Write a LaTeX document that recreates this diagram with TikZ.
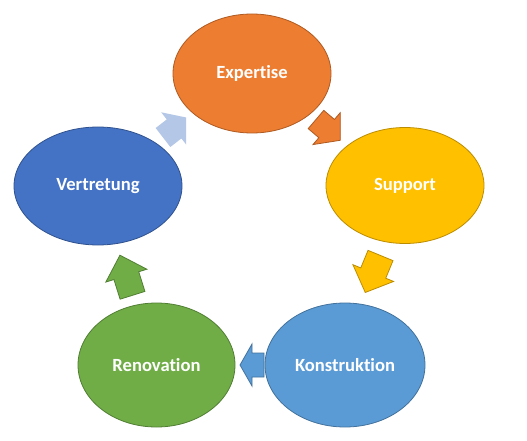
\documentclass[tikz,border=0pt]{standalone}
\usepackage{fontspec}
\setmainfont{Carlito}[Ligatures=NoCommon]
\usetikzlibrary{shapes.geometric}
\definecolor{cOr}{HTML}{ED7D31}\definecolor{cOrD}{HTML}{AE5A21}
\definecolor{cYe}{HTML}{FFC000}\definecolor{cYeD}{HTML}{BC8C00}
\definecolor{cBl}{HTML}{5B9BD5}\definecolor{cBlD}{HTML}{41719C}
\definecolor{cGr}{HTML}{70AD47}\definecolor{cGrD}{HTML}{507E32}
\definecolor{cDb}{HTML}{4472C4}\definecolor{cDbD}{HTML}{2F528F}
\definecolor{cLb}{HTML}{B4C7E7}
\newcommand\BlockArr[8]{%
  \begin{scope}[shift={(#2,#3)},rotate=#4]
    \path[#1] (0,#7) -- (#6,#7) -- (#6,#8) -- (#5,0) -- (#6,-#8) -- (#6,-#7) -- (0,-#7) -- cycle;
  \end{scope}}
\tikzset{
  circ/.style={ellipse, inner sep=0pt, line width=0.8pt, text=white,
    font=\bfseries\fontsize{18.6}{20}\selectfont},
  arr/.style={line width=0.8pt, line join=miter},
}
\begin{document}
\begin{tikzpicture}[x=1pt,y=-1pt]
\useasboundingbox[fill=white] (0,0) rectangle (527,441);
% arrows
\BlockArr{arr,fill=cOr,draw=cOrD}{316}{119.5}{-40.5}{32}{14}{12}{21}
\BlockArr{arr,fill=cYe,draw=cYeD}{380.5}{255.5}{-112.4}{40}{19}{13.5}{22}
\BlockArr{arr,fill=cBl,draw=cBlD}{264}{365}{180}{24}{12}{12}{21}
\BlockArr{arr,fill=cGr,draw=cGrD}{132.5}{295.3}{107.4}{42}{20.6}{13}{21.5}
\begin{scope}
  \clip (0,0) rectangle (186,441);
  \BlockArr{fill=cLb}{163}{137.5}{37.7}{32}{14}{12}{21}
\end{scope}
% ellipses
\node[circ, fill=cOr, draw=cOrD, minimum width=158pt, minimum height=119pt] (exp) at (252,73.5) {Expertise};
\node[circ, fill=cYe, draw=cYeD, minimum width=158pt, minimum height=116pt] (sup) at (405,185.5) {Support};
\node[circ, fill=cBl, draw=cBlD, minimum width=160pt, minimum height=124pt] (kon) at (345,365) {Konstruktion};
\node[circ, fill=cGr, draw=cGrD, minimum width=157pt, minimum height=124pt] (ren) at (156.5,365) {Renovation};
\node[circ, fill=cDb, draw=cDbD, minimum width=168pt, minimum height=118pt] (ver) at (98,186) {Vertretung};
\end{tikzpicture}
\end{document}
